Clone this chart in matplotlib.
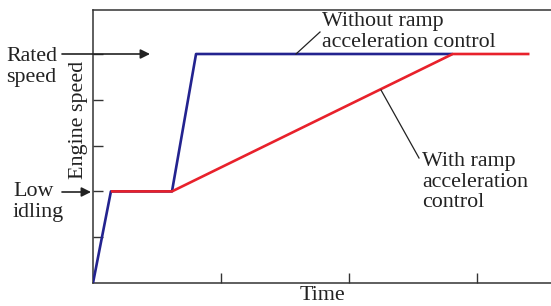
import matplotlib
matplotlib.use("Agg")
import matplotlib.pyplot as plt

# data (time units, speed units)
blue_t = [0, 0.14, 0.617, 0.805, 2.81]
blue_v = [0, 2, 2, 5, 5]
red_t = [0.14, 0.617, 2.81, 3.41]
red_v = [2, 2, 5, 5]
xticks = [1, 2, 3]
yticks = [1, 2, 3, 4, 5]

W, H = 551, 306
fig = plt.figure(figsize=(W / 100, H / 100), dpi=100)
L, R, T, B = 93, 560, 10, 283
ax = fig.add_axes([L / W, 1 - B / H, (R - L) / W, (B - T) / H])
PX_X = 128.0
PX_Y = 45.8
ax.set_xlim(0, (R - L) / PX_X)
ax.set_ylim(0, (B - T) / PX_Y)

ax.plot(blue_t, blue_v, color="#23238f", lw=1.9, solid_capstyle="butt", zorder=3)
ax.plot(red_t, red_v, color="#e8212b", lw=1.9, solid_capstyle="butt", zorder=4)

for s in ["left", "bottom", "top"]:
    ax.spines[s].set_color("#333333")
    ax.spines[s].set_linewidth(1.1)
ax.spines["right"].set_visible(False)
ax.set_xticks(xticks)
ax.set_yticks(yticks)
ax.tick_params(direction="in", length=7, width=1.0, color="#333333",
               labelleft=False, labelbottom=False)

fam = "Liberation Serif"
fs = 15.8
tc = "#222222"
ls = 1.12

def fx(px):
    return px / W

def fy(py):
    return 1 - py / H

def dx(px):
    return (px - L) / PX_X

def dy(py):
    return (B - py) / PX_Y

fig.text(fx(6), fy(47), "Rated\nspeed", ha="left", va="top", family=fam,
         fontsize=fs, color=tc, linespacing=ls)
fig.text(fx(13), fy(182), "Low\nidling", ha="left", va="top", family=fam,
         fontsize=fs, color=tc, linespacing=ls)

ax.annotate("", xy=(fx(150), fy(54)), xytext=(fx(62), fy(54)),
            xycoords="figure fraction", textcoords="figure fraction",
            arrowprops=dict(arrowstyle="-|>", color="#222222", lw=1.2,
                            mutation_scale=14, shrinkA=0, shrinkB=0),
            annotation_clip=False)
ax.annotate("", xy=(fx(91), fy(192)), xytext=(fx(62), fy(192)),
            xycoords="figure fraction", textcoords="figure fraction",
            arrowprops=dict(arrowstyle="-|>", color="#222222", lw=1.2,
                            mutation_scale=14, shrinkA=0, shrinkB=0),
            annotation_clip=False)

fig.text(fx(78), fy(120), "Engine speed", rotation=90, ha="center", va="center",
         family=fam, fontsize=fs, color=tc)
fig.text(fx(322), fy(296), "Time", ha="center", va="center",
         family=fam, fontsize=fs, color=tc)

fig.text(fx(322), fy(12), "Without ramp\nacceleration control", ha="left", va="top",
         family=fam, fontsize=fs, color=tc, linespacing=ls)
ax.plot([dx(296), dx(320)], [dy(54), dy(32)], color="#222222", lw=0.9, zorder=5)

fig.text(fx(422), fy(152), "With ramp\nacceleration\ncontrol", ha="left", va="top",
         family=fam, fontsize=fs, color=tc, linespacing=ls)
ax.plot([dx(381), dx(419)], [dy(90), dy(158)], color="#222222", lw=0.9, zorder=5)

fig.savefig("out.png", dpi=100)
